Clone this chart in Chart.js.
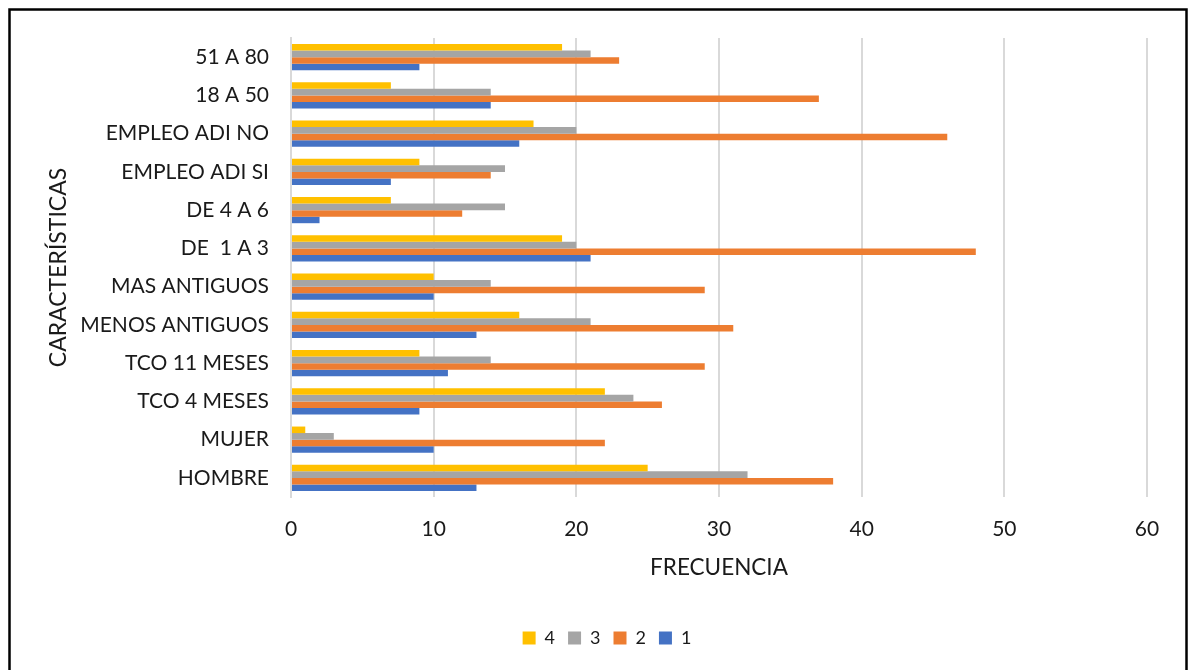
<!DOCTYPE html>
<html>
<head>
<meta charset="utf-8">
<script src="https://cdn.jsdelivr.net/npm/chart.js@4"></script>
<style>
  html, body { margin: 0; padding: 0; background: #fff; }
  #wrap { position: absolute; left: 0; top: 0; width: 1189px; height: 670px; }
</style>
</head>
<body>
<div id="wrap"><canvas id="c" width="1189" height="670"></canvas></div>
<script>
// Categories, top to bottom
const categories = ['51 A 80', '18 A 50', 'EMPLEO ADI NO', 'EMPLEO ADI SI', 'DE 4 A 6', 'DE  1 A 3',
  'MAS ANTIGUOS', 'MENOS ANTIGUOS', 'TCO 11 MESES', 'TCO 4 MESES', 'MUJER', 'HOMBRE'];

// Frequencies per level
const serie4 = [19, 7, 17, 9, 7, 19, 10, 16, 9, 22, 1, 25];
const serie3 = [21, 14, 20, 15, 15, 20, 14, 21, 14, 24, 3, 32];
const serie2 = [23, 37, 46, 14, 12, 48, 29, 31, 29, 26, 22, 38];
const serie1 = [9, 14, 16, 7, 2, 21, 10, 13, 11, 9, 10, 13];

const seriesNames = ['4', '3', '2', '1'];
const xTicks = [0, 10, 20, 30, 40, 50, 60];

const FONT = 'Lato, "Open Sans", sans-serif';
const TXT = '#1a1a1a';

const frame = {
  id: 'frame',
  afterDraw(chart) {
    const ctx = chart.ctx;
    ctx.save();
    ctx.strokeStyle = '#000';
    ctx.lineWidth = 2.5;
    ctx.strokeRect(9.5, 9.5, 1177, 700);
    ctx.restore();
  }
};

new Chart(document.getElementById('c'), {
  type: 'bar',
  data: {
    labels: categories,
    datasets: [
      { label: seriesNames[0], data: serie4, backgroundColor: '#FFC000' },
      { label: seriesNames[1], data: serie3, backgroundColor: '#A5A5A5' },
      { label: seriesNames[2], data: serie2, backgroundColor: '#ED7D31' },
      { label: seriesNames[3], data: serie1, backgroundColor: '#4472C4' }
    ]
  },
  options: {
    indexAxis: 'y',
    responsive: false,
    animation: false,
    devicePixelRatio: 1,
    datasets: { bar: { categoryPercentage: 0.684, barPercentage: 1.0, borderWidth: 0 } },
    layout: { padding: { left: 25, right: 0, top: 38, bottom: 13 } },
    plugins: {
      tooltip: { enabled: false },
      legend: {
        position: 'bottom',
        labels: {
          boxWidth: 13, boxHeight: 13, padding: 13,
          color: TXT, font: { family: FONT, size: 18 }
        }
      }
    },
    scales: {
      x: {
        min: 0, max: 60,
        afterBuildTicks(s) { s.ticks = xTicks.map(v => ({ value: v })); },
        afterFit(s) { s.height = 119; s.paddingLeft = 0; s.paddingRight = 42; },
        grid: { color: '#d9d9d9', lineWidth: 2, drawTicks: false },
        border: { display: false },
        ticks: { padding: 20, color: TXT, font: { family: FONT, size: 21 } },
        title: { display: true, text: 'FRECUENCIA', color: TXT, padding: { top: 0, bottom: 35 },
                 font: { family: FONT, size: 22.5 } }
      },
      y: {
        afterFit(s) { s.width = 266; s.paddingTop = 0; s.paddingBottom = 0; },
        grid: { display: false, drawTicks: false },
        border: { display: true, color: '#d9d9d9', width: 2 },
        ticks: { padding: 22, color: TXT, font: { family: FONT, size: 21 } },
        title: { display: true, text: 'CARACTERÍSTICAS', color: TXT, padding: { top: 20, bottom: 0 },
                 font: { family: FONT, size: 23 } }
      }
    }
  },
  plugins: [frame]
});
</script>
</body>
</html>
